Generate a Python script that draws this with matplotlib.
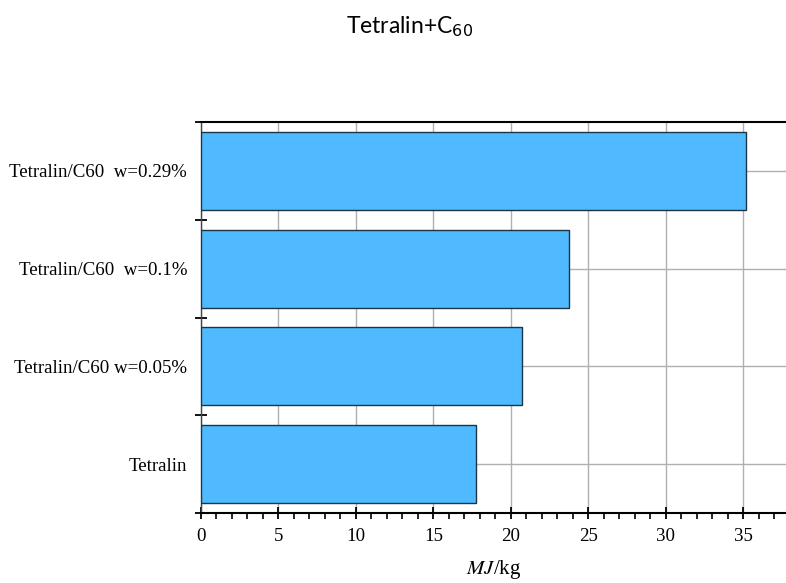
import matplotlib.pyplot as plt
from matplotlib.ticker import MultipleLocator, FixedLocator

plt.rcParams['font.family'] = ['Liberation Serif', 'DejaVu Serif']
plt.rcParams['mathtext.fontset'] = 'stix'

# heat of combustion for each sample
samples = ["Tetralin", "Tetralin/C60 w=0.05%", "Tetralin/C60  w=0.1%", "Tetralin/C60  w=0.29%"]
energy = [17.75, 20.72, 23.76, 35.18]

fig = plt.figure(figsize=(7.86, 5.83), dpi=100)
ax = fig.add_axes([201/786, (583-513)/583, (786-201)/786, (513-122)/583])

ypos = list(range(len(samples)))
ax.barh(ypos, energy, height=0.8, color='#4fbaff', edgecolor='#1c3444', linewidth=1.0, zorder=3)

ax.set_xlim(0, 37.76)
ax.set_ylim(-0.5, len(samples) - 0.5)

ax.set_yticks(ypos)
ax.set_yticklabels(samples, fontsize=13.6)
ax.yaxis.set_minor_locator(FixedLocator([i - 0.5 for i in range(len(samples) + 1)]))
ax.tick_params(axis='y', which='major', length=0, pad=10)
ax.tick_params(axis='y', which='minor', direction='inout', length=8, width=1.3, color='black')

ax.xaxis.set_major_locator(MultipleLocator(5))
ax.xaxis.set_minor_locator(MultipleLocator(1))
ax.tick_params(axis='x', which='major', direction='inout', length=9, width=1.3, labelsize=13.6, pad=6)
ax.tick_params(axis='x', which='minor', direction='out', length=4, width=1.2)

ax.grid(True, which='major', axis='both', color='#b0b0b0', linewidth=1.0, zorder=0)
ax.set_axisbelow(True)

for side in ['top', 'bottom']:
    ax.spines[side].set_color('black')
    ax.spines[side].set_linewidth(1.5)
ax.spines['left'].set_color('#444444')
ax.spines['left'].set_linewidth(1.0)
ax.spines['right'].set_visible(False)

ax.set_xlabel(r'$MJ$/kg', fontsize=15, labelpad=10)

fig.text(410/786, 1 - 27/583, r'Tetralin+C$_{60}$', ha='center', va='center',
         fontsize=16.5, family=['Lato', 'DejaVu Sans'], math_fontfamily='dejavusans')

fig.savefig('out.png', dpi=100)
